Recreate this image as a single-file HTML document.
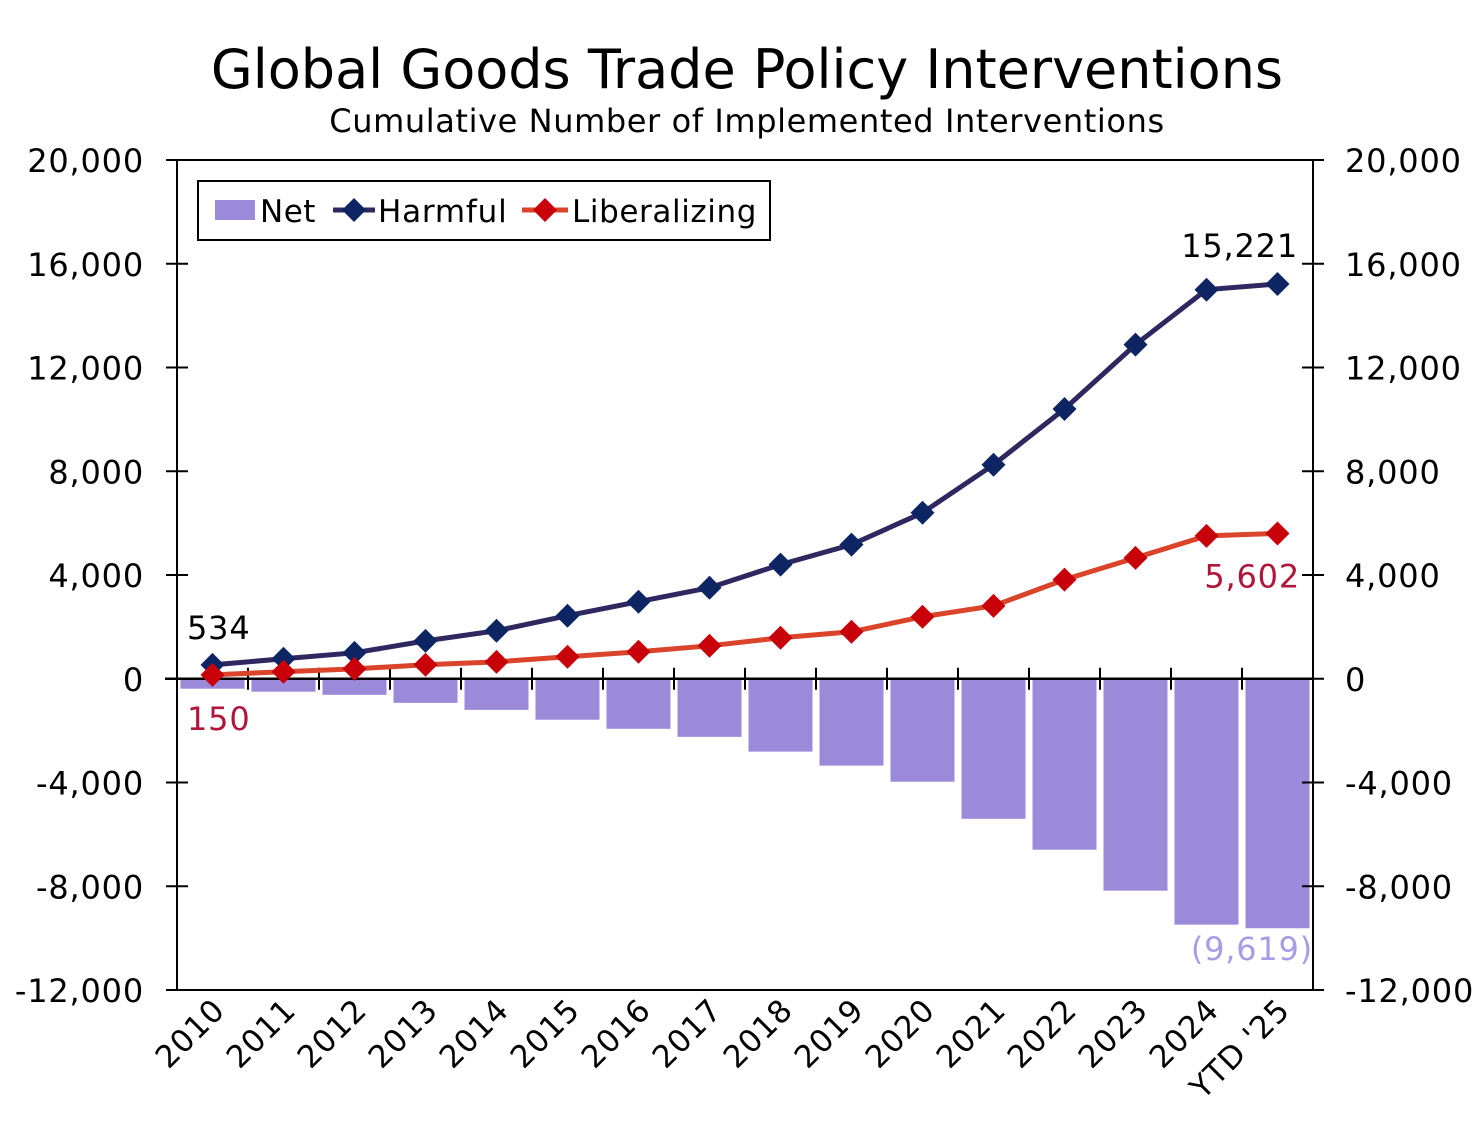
<!DOCTYPE html>
<html><head><meta charset="utf-8"><style>
body{margin:0;background:#fff;}
svg{display:block;font-family:"DejaVu Sans","Liberation Sans",sans-serif;}
</style></head><body>
<svg id="chart" width="1481" height="1136" viewBox="0 0 1481 1136" xmlns="http://www.w3.org/2000/svg">
<text x="747" y="88" font-size="54" text-anchor="middle" fill="#000">Global Goods Trade Policy Interventions</text>
<text x="747" y="132" font-size="32" text-anchor="middle" fill="#000" letter-spacing="0.6">Cumulative Number of Implemented Interventions</text>
<g id="plot"></g>
<g>
<rect x="198" y="181" width="572" height="59" fill="#fff" stroke="#000" stroke-width="2"/>
<rect x="215" y="200" width="40" height="20" fill="#9b8ad9"/>
<text x="260" y="222" font-size="31" letter-spacing="0.5">Net</text>
<line x1="333" y1="210" x2="375" y2="210" stroke="#2e2760" stroke-width="5"/>
<path d="M354 198 L366 210 L354 222 L342 210Z" fill="#0e2563"/>
<text x="378" y="222" font-size="31" letter-spacing="0.8">Harmful</text>
<line x1="522" y1="210" x2="568" y2="210" stroke="#d9442b" stroke-width="5"/>
<path d="M545 198 L557 210 L545 222 L533 210Z" fill="#c8000a"/>
<text x="572" y="222" font-size="31" letter-spacing="0.6">Liberalizing</text>
</g>
</svg>
<script>
const categories=["2010","2011","2012","2013","2014","2015","2016","2017","2018","2019","2020","2021","2022","2023","2024","YTD '25"];
const harmful=[534,770,1000,1460,1850,2430,2970,3510,4400,5170,6400,8250,10400,12880,15000,15221];
const liberalizing=[150,270,380,540,650,850,1040,1270,1580,1810,2390,2810,3820,4660,5510,5602];
const net=[-384,-500,-620,-930,-1200,-1580,-1930,-2240,-2810,-3350,-3970,-5400,-6590,-8170,-9480,-9619];
const yTicks=[20000,16000,12000,8000,4000,0,-4000,-8000,-12000];
const L=177,R=1313,T=160,B=990,ymax=20000,ymin=-12000;
const n=categories.length,bw=(R-L)/n;
const y=v=>T+(ymax-v)/(ymax-ymin)*(B-T);
const x=i=>L+bw*(i+0.5);
const g=document.getElementById('plot');
const NS='http://www.w3.org/2000/svg';
function mk(t,a,p){const e=document.createElementNS(NS,t);for(const k in a)e.setAttribute(k,a[k]);(p||g).appendChild(e);return e;}
const fmt=v=>v<0?'-'+Math.abs(v).toLocaleString('en-US'):v.toLocaleString('en-US');
net.forEach((v,i)=>{const r=mk('rect',{x:L+bw*i+3.5,y:y(0),width:bw-7,height:y(v)-y(0),fill:'#9b8ad9'});

});
mk('rect',{x:L,y:T,width:R-L,height:B-T,fill:'none',stroke:'#000','stroke-width':2});
mk('line',{x1:L-12,y1:y(0),x2:R,y2:y(0),stroke:'#000','stroke-width':2.5});
yTicks.forEach(v=>{
 mk('line',{x1:L-11,y1:y(v),x2:L+11,y2:y(v),stroke:'#000','stroke-width':2});
 mk('line',{x1:R-11,y1:y(v),x2:R+11,y2:y(v),stroke:'#000','stroke-width':2});
 const a=mk('text',{x:L-33,y:y(v)+12,'font-size':32,'text-anchor':'end','letter-spacing':0.8});a.textContent=fmt(v);
 
 
 const b=mk('text',{x:R+32,y:y(v)+12,'font-size':32,'letter-spacing':0.8});b.textContent=fmt(v);
 
 
});
for(let i=1;i<n;i++)mk('line',{x1:L+bw*i,y1:y(0)-11,x2:L+bw*i,y2:y(0)+11,stroke:'#000','stroke-width':2});
categories.forEach((c,i)=>{const t=mk('text',{x:0,y:0,'font-size':31,'text-anchor':'end','letter-spacing':0.8,transform:`translate(${x(i)+14},${1012}) rotate(-45)`});t.textContent=c;

});
function series(d,col,mcol,name){
 const p=mk('polyline',{points:d.map((v,i)=>x(i)+','+y(v)).join(' '),fill:'none',stroke:col,'stroke-width':5});
 
 
 d.forEach((v,i)=>{const m=mk('path',{d:`M${x(i)} ${y(v)-12} L${x(i)+12} ${y(v)} L${x(i)} ${y(v)+12} L${x(i)-12} ${y(v)}Z`,fill:mcol});
 
 });
}
series(harmful,'#2e2760','#0e2563','harmful');
series(liberalizing,'#d9442b','#c8000a','liberalizing');
function lab(t,xx,yy,col,anc,name){const e=mk('text',{x:xx,y:yy,'font-size':32,fill:col,'text-anchor':anc,'letter-spacing':0.8});e.textContent=t;

}
lab(fmt(harmful[0]),187,y(harmful[0])-26,'#000','start','harmful-first-label');
lab(fmt(liberalizing[0]),187,y(0)+51,'#b0163a','start','liberalizing-first-label');
lab(fmt(harmful[n-1]),1298,y(harmful[n-1])-27,'#000','end','harmful-last-label');
lab(fmt(liberalizing[n-1]),1300,y(liberalizing[n-1])+54,'#b0163a','end','liberalizing-last-label');
lab('('+Math.abs(net[n-1]).toLocaleString('en-US')+')',1313,y(net[n-1])+32,'#a99ce6','end','net-last-label');
</script>
</body></html>
